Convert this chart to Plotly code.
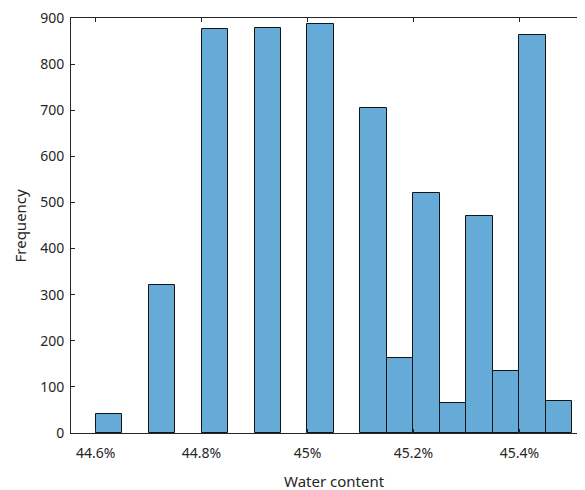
import plotly.graph_objects as go

# Histogram data (bin width 0.05 percentage points)
bin_left = [44.60, 44.70, 44.80, 44.90, 45.00, 45.10, 45.15, 45.20, 45.25, 45.30, 45.35, 45.40, 45.45]
counts = [42, 320, 876, 878, 887, 705, 162, 521, 65, 470, 135, 864, 70]
bin_width = 0.05
x_ticks = [44.6, 44.8, 45.0, 45.2, 45.4]
x_tick_text = ["44.6%", "44.8%", "45%", "45.2%", "45.4%"]
y_ticks = [0, 100, 200, 300, 400, 500, 600, 700, 800, 900]

centers = [b + bin_width / 2 for b in bin_left]

fig = go.Figure()
fig.add_trace(go.Bar(
    x=centers, y=counts, width=[bin_width] * len(counts),
    marker=dict(color="rgb(102,170,215)", line=dict(color="rgb(20,20,20)", width=1)),
))

axis_col = "rgb(38,38,38)"
font = dict(family="Noto Sans", size=14, color=axis_col)
title_font = dict(family="Noto Sans", size=15, color=axis_col)

fig.update_layout(
    width=577, height=482,
    margin=dict(l=63, r=0, t=8, b=57),
    plot_bgcolor="white", paper_bgcolor="white",
    showlegend=False, bargap=0,
    font=font,
    xaxis=dict(
        range=[44.5535, 45.524],
        tickvals=x_ticks, ticktext=x_tick_text,
        ticks="inside", ticklen=4, tickcolor=axis_col,
        showline=True, linecolor=axis_col, linewidth=1, mirror="ticks",
        showgrid=False, zeroline=False,
        tickfont=font, ticklabelstandoff=7,
    ),
    yaxis=dict(
        range=[0, 900], tickvals=y_ticks,
        ticks="inside", ticklen=4, tickcolor=axis_col,
        showline=True, linecolor=axis_col, linewidth=1,
        showgrid=False, zeroline=False,
        tickfont=font, ticklabelstandoff=3, ticklabeloverflow="allow",
    ),
    annotations=[
        dict(text="Water content", xref="paper", yref="paper", x=0.512, y=0,
             yshift=-36, xanchor="center", yanchor="top", showarrow=False,
             font=title_font),
        dict(text="Frequency", xref="paper", yref="paper", x=0, y=0.5,
             xshift=-40, xanchor="right", yanchor="middle", textangle=-90,
             showarrow=False, font=title_font),
    ],
)

fig.write_html("out.html")
